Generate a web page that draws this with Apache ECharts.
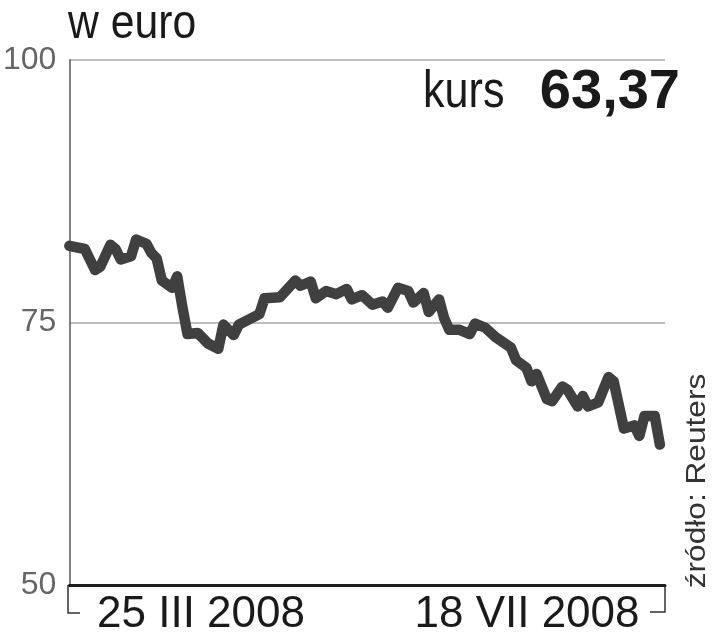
<!DOCTYPE html>
<html>
<head>
<meta charset="utf-8">
<script src="https://cdn.jsdelivr.net/npm/echarts@6/dist/echarts.min.js"></script>
<style>
html,body{margin:0;padding:0;background:#fff;}
#chart{width:713px;height:640px;}
</style>
</head>
<body>
<div id="chart"></div>
<script>
// Kurs (w euro)
var dates = [
  '2008-03-25','2008-03-28','2008-03-30','2008-03-31','2008-04-02','2008-04-03','2008-04-04',
  '2008-04-06','2008-04-07','2008-04-09','2008-04-10','2008-04-11','2008-04-12','2008-04-14',
  '2008-04-15','2008-04-16','2008-04-17','2008-04-19','2008-04-21','2008-04-23','2008-04-24',
  '2008-04-26','2008-04-27','2008-04-29','2008-05-01','2008-05-02','2008-05-05','2008-05-08',
  '2008-05-09','2008-05-11','2008-05-12','2008-05-14','2008-05-16','2008-05-18','2008-05-19',
  '2008-05-21','2008-05-23','2008-05-25','2008-05-26','2008-05-28','2008-05-30','2008-05-31',
  '2008-06-02','2008-06-03','2008-06-05','2008-06-06','2008-06-07','2008-06-09','2008-06-11',
  '2008-06-12','2008-06-14','2008-06-16','2008-06-19','2008-06-20','2008-06-22','2008-06-23',
  '2008-06-24','2008-06-26','2008-06-27','2008-06-29','2008-06-30','2008-07-02','2008-07-03',
  '2008-07-04','2008-07-06','2008-07-08','2008-07-09','2008-07-11','2008-07-13','2008-07-14',
  '2008-07-15','2008-07-17','2008-07-18'
];
var values = [
  82.3, 82.0, 80.0, 80.3, 82.4, 82.0, 81.0,
  81.3, 82.9, 82.5, 81.6, 81.1, 79.0, 78.3,
  79.4, 76.5, 73.9, 74.0, 73.0, 72.5, 74.8,
  73.8, 74.8, 75.3, 75.8, 77.3, 77.4, 79.0,
  78.5, 78.9, 77.3, 78.0, 77.7, 78.2, 77.2,
  77.6, 76.7, 77.0, 76.4, 78.3, 78.0, 76.9,
  77.8, 76.0, 77.2, 75.4, 74.3, 74.3, 73.9,
  74.9, 74.5, 73.6, 72.6, 71.4, 70.7, 69.4,
  70.1, 67.7, 67.5, 68.9, 68.6, 67.0, 68.0,
  67.0, 67.4, 69.8, 69.4, 64.9, 65.2, 64.2,
  66.1, 66.1, 63.37
];
var yTicks = [50, 75, 100];
var xMin = '2008-03-25';
var xMax = '2008-07-19';
var periodLabels = ['25 III 2008', '18 VII 2008'];
var titleText = 'w euro';
var kursLabel = 'kurs';
var kursValue = '63,37';
var sourceText = 'źródło: Reuters';

var chart = echarts.init(document.getElementById('chart'));
var FONT = '"Liberation Sans", Arial, sans-serif';

var option = {
  backgroundColor: '#fff',
  animation: false,
  grid: {left: 68, right: 48, top: 60, bottom: 55, containLabel: false},
  xAxis: {
    type: 'time',
    min: xMin,
    max: xMax,
    axisLine: {show: true, lineStyle: {color: '#1e1e1e', width: 3}},
    axisTick: {show: false},
    axisLabel: {show: false},
    splitLine: {show: false}
  },
  yAxis: {
    type: 'value',
    min: yTicks[0],
    max: yTicks[yTicks.length - 1],
    interval: yTicks[1] - yTicks[0],
    axisLine: {show: true, lineStyle: {color: '#555', width: 1.5}},
    axisTick: {show: false},
    axisLabel: {
      show: true, margin: 13, color: '#666', fontSize: 32,
      fontFamily: FONT, fontWeight: 'normal', verticalAlign: 'middle'
    },
    splitLine: {show: true, lineStyle: {color: '#a8a8a8', width: 1.5}}
  },
  series: [{
    type: 'line',
    data: dates.map(function (d, i) { return [d, values[i]]; }),
    symbol: 'none',
    lineStyle: {color: '#404040', width: 10.5, cap: 'round', join: 'round'},
    z: 3
  }],
  graphic: [
    {type: 'text', x: 68, y: 25, scaleX: 0.89, style: {text: titleText, x: 0, y: 0, font: '48px ' + FONT, fill: '#1a1a1a', textVerticalAlign: 'middle', textAlign: 'left'}},
    {type: 'text', x: 423, y: 93, scaleX: 0.83, style: {text: kursLabel, x: 0, y: 0, font: '52px ' + FONT, fill: '#1a1a1a', textVerticalAlign: 'middle', textAlign: 'left'}},
    {type: 'text', x: 680, y: 93, style: {text: kursValue, x: 0, y: 0, font: 'bold 56px ' + FONT, fill: '#1a1a1a', textVerticalAlign: 'middle', textAlign: 'right'}},
    {type: 'text', x: 201, y: 615, style: {text: periodLabels[0], x: 0, y: 0, font: '44px ' + FONT, fill: '#1a1a1a', textVerticalAlign: 'middle', textAlign: 'center'}},
    {type: 'text', x: 527, y: 615, style: {text: periodLabels[1], x: 0, y: 0, font: '44px ' + FONT, fill: '#1a1a1a', textVerticalAlign: 'middle', textAlign: 'center'}},
    {type: 'polyline', shape: {points: [[68, 585], [68, 613], [80, 613]]}, style: {stroke: '#333', lineWidth: 1.5, fill: null}},
    {type: 'polyline', shape: {points: [[665, 585], [665, 612], [650, 612]]}, style: {stroke: '#333', lineWidth: 1.5, fill: null}},
    {type: 'text', x: 697, y: 481, rotation: Math.PI / 2, scaleX: 1.13, style: {text: sourceText, x: 0, y: 0, font: '28px ' + FONT, fill: '#333', textVerticalAlign: 'middle', textAlign: 'center'}}
  ]
};
chart.setOption(option);
</script>
</body>
</html>
